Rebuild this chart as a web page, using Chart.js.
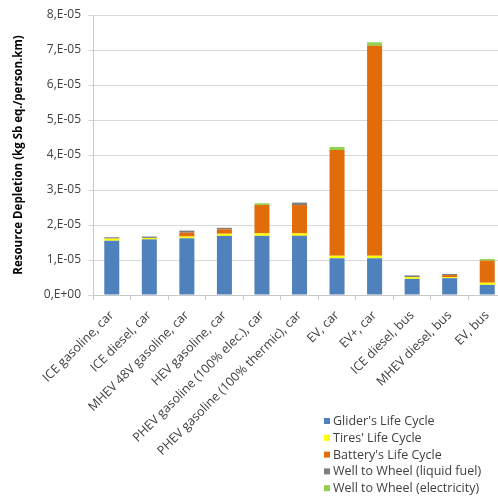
<!DOCTYPE html>
<html lang="en">
<head>
    <meta charset="UTF-8">
    <title>Resource Depletion</title>
    <script src="https://cdn.jsdelivr.net/npm/chart.js"></script>
    <style>
        html, body { margin: 0; padding: 0; background: #fff; overflow: hidden; }
        .wrap { width: 506px; height: 499px; position: relative; }
    </style>
</head>
<body>
    <div class="wrap">
        <canvas id="chart"></canvas>
    </div>
    <script>
    // categories and values (kg Sb eq./person.km)
    const categories = ['ICE gasoline, car', 'ICE diesel, car', 'MHEV 48V gasoline, car', 'HEV gasoline, car',
        'PHEV gasoline (100% elec.), car', 'PHEV gasoline (100% thermic), car', 'EV, car', 'EV+, car',
        'ICE diesel, bus', 'MHEV diesel, bus', 'EV, bus'];
    const glider  = [1.55e-5, 1.59e-5, 1.62e-5, 1.69e-5, 1.69e-5, 1.69e-5, 1.05e-5, 1.05e-5, 0.46e-5, 0.48e-5, 0.29e-5];
    const tires   = [0.06e-5, 0.04e-5, 0.05e-5, 0.06e-5, 0.07e-5, 0.07e-5, 0.07e-5, 0.07e-5, 0.05e-5, 0.03e-5, 0.06e-5];
    const battery = [0, 0, 0.11e-5, 0.13e-5, 0.81e-5, 0.81e-5, 3.02e-5, 6.00e-5, 0, 0.06e-5, 0.63e-5];
    const wtwFuel = [0.04e-5, 0.04e-5, 0.06e-5, 0.04e-5, 0, 0.07e-5, 0, 0, 0.05e-5, 0.03e-5, 0];
    const wtwElec = [0, 0, 0, 0, 0.05e-5, 0, 0.09e-5, 0.10e-5, 0, 0, 0.05e-5];
    const yTicks  = [0, 1e-5, 2e-5, 3e-5, 4e-5, 5e-5, 6e-5, 7e-5, 8e-5];

    const FONT = "'Open Sans', sans-serif";

    function sci(v) {
        // excel style "0,E+00"
        if (Math.abs(v) < 1e-12) return '0,E+00';
        const n = Math.round(v * 1e5);
        return n + ',E-05';
    }

    // legend drawn at the bottom right, one item per line
    const sideLegend = {
        id: 'sideLegend',
        afterDraw(chart) {
            const ctx = chart.ctx;
            ctx.save();
            ctx.font = '12.5px ' + FONT;
            ctx.textBaseline = 'middle';
            chart.data.datasets.forEach((ds, i) => {
                const y = 421 + i * 16.8;
                ctx.fillStyle = ds.backgroundColor;
                ctx.fillRect(324, y - 3, 6, 6);
                ctx.fillStyle = '#404040';
                ctx.fillText(ds.label, 333, y + 0.5);
            });
            ctx.restore();
        }
    };

    new Chart(document.getElementById('chart').getContext('2d'), {
        type: 'bar',
        data: {
            labels: categories,
            datasets: [
                { label: "Glider's Life Cycle", data: glider, backgroundColor: '#4f81bd' },
                { label: "Tires' Life Cycle", data: tires, backgroundColor: '#ffff00' },
                { label: "Battery's Life Cycle", data: battery, backgroundColor: '#e36c0a' },
                { label: 'Well to Wheel (liquid fuel)', data: wtwFuel, backgroundColor: '#7f7f7f' },
                { label: 'Well to Wheel (electricity)', data: wtwElec, backgroundColor: '#92d050' }
            ]
        },
        options: {
            responsive: true,
            maintainAspectRatio: false,
            animation: false,
            layout: { padding: { top: 15, left: 0, right: 0, bottom: 0 } },
            datasets: { bar: { barPercentage: 0.4, categoryPercentage: 1.0, borderWidth: 0 } },
            plugins: {
                legend: { display: false },
                tooltip: { enabled: false }
            },
            scales: {
                x: {
                    stacked: true,
                    afterFit: (s) => { s.height = 204; },
                    grid: { offset: true, drawOnChartArea: false, tickLength: 5, color: '#c8c8c8' },
                    border: { color: '#c8c8c8' },
                    ticks: {
                        minRotation: 45, maxRotation: 45, autoSkip: false, padding: 8,
                        color: '#404040', font: { family: FONT, size: 12.5 }
                    }
                },
                y: {
                    stacked: true,
                    min: 0, max: 8e-5,
                    afterFit: (s) => { s.width = 93; },
                    afterBuildTicks: (s) => { s.ticks = yTicks.map(v => ({ value: v })); },
                    grid: { color: '#d9d9d9', drawTicks: true, tickLength: 5 },
                    border: { display: true, color: '#c8c8c8' },
                    ticks: {
                        padding: 7, color: '#404040',
                        font: { family: FONT, size: 12 },
                        callback: (v) => sci(v)
                    },
                    title: {
                        display: true,
                        text: 'Resource Depletion (kg Sb eq./person.km)',
                        color: '#000',
                        font: { family: FONT, size: 11.5, weight: 'bold' },
                        padding: { top: 12, bottom: 0 }
                    }
                }
            }
        },
        plugins: [sideLegend]
    });
    </script>
</body>
</html>
